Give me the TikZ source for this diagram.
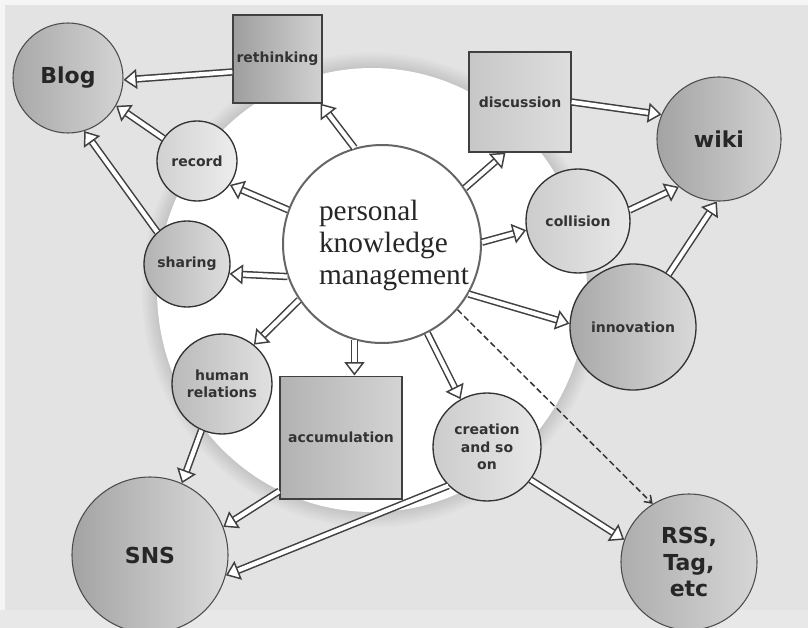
\documentclass[tikz,border=0pt]{standalone}
\usepackage{fontspec}
\setmainfont{Liberation Serif}
\setsansfont{DejaVu Sans}
\usetikzlibrary{arrows.meta}
\begin{document}
\begin{tikzpicture}[x=0.75pt,y=-0.75pt,
  every node/.style={inner sep=0pt},
  bigc/.style={circle, draw=black!70, line width=0.8pt, align=center, text=black!85,
    font=\sffamily\bfseries\fontsize{16.5}{20}\selectfont},
  smc/.style={circle, draw=black!80, line width=1pt, align=center, text=black!80,
    font=\sffamily\bfseries\fontsize{10.5}{13}\selectfont},
  sqbox/.style={rectangle, draw=black!75, line width=1pt, align=center, text=black!80,
    font=\sffamily\bfseries\fontsize{10.5}{12.5}\selectfont},
  darr/.style={draw=black!75, line width=1.15pt, double=white, double distance=3.2pt,
    -{Triangle[open, length=10pt, width=15pt, line width=1.1pt, fill=white]}},
  dasharr/.style={draw=black!80, line width=1.1pt, dash pattern=on 4.5pt off 2.5pt,
    -{Straight Barb[length=5pt, width=7pt]}}
]
\fill[black!11] (0,0) rectangle (808,628);
\fill[black!4] (0,0) rectangle (808,5);
\fill[black!4] (0,0) rectangle (5,628);
\fill[black!9] (0,610) rectangle (808,628);
\useasboundingbox (0,0) rectangle (808,628);
% soft halo around the white disc
\foreach \i in {0,...,11}{
  \pgfmathsetmacro\cc{11+1.1*\i}
  \pgfmathsetmacro\ex{17-1.5*\i}
  \fill[black!\cc] (372,290) ellipse [x radius=215+\ex, y radius=222+\ex];
}
\fill[white] (372,290) ellipse [x radius=215, y radius=222];

% central node
\node[circle, draw=black!60, line width=1.5pt, fill=white, minimum size=148.5pt] (pkm) at (382,244) {};
\node[font=\fontsize{22}{24}\selectfont, align=left, text=black!85] (pkmt) at (394,245) {personal\\knowledge\\management};

% outer nodes
\node[bigc, minimum size=82.5pt, left color=black!34, right color=black!17] (blog) at (68,78) {Blog};
\node[sqbox, minimum width=66.75pt, minimum height=66pt, left color=black!38, right color=black!18] (reth) at (277.5,59) {rethinking};
\node[smc, minimum size=60pt, left color=black!18, right color=black!7] (record) at (197,161) {record};
\node[smc, minimum size=64.5pt, left color=black!30, right color=black!13] (sharing) at (187,264) {sharing};
\node[sqbox, minimum width=76.5pt, minimum height=75pt, left color=black!22, right color=black!13] (disc) at (520,102) {discussion};
\node[bigc, minimum size=93pt, left color=black!36, right color=black!17] (wiki) at (719,139) {wiki};
\node[smc, minimum size=78pt, left color=black!20, right color=black!9] (coll) at (578,221) {collision};
\node[smc, minimum size=94.5pt, left color=black!34, right color=black!15] (innov) at (633,327) {innovation};
\node[smc, minimum size=75pt, left color=black!27, right color=black!12] (human) at (222,384) {human\\relations};
\node[sqbox, minimum width=91.5pt, minimum height=92pt, left color=black!30, right color=black!17] (accum) at (341,437.5) {accumulation};
\node[bigc, minimum size=117pt, left color=black!36, right color=black!14] (sns) at (150,555) {SNS};
\node[smc, minimum size=81pt, left color=black!20, right color=black!9] (creat) at (487,447) {creation\\and so\\on};
\node[bigc, minimum size=102pt, left color=black!32, right color=black!16] (rss) at (689,562) {RSS,\\Tag,\\etc};

% connectors
\draw[darr] (reth.196) -- (blog.358);
\draw[darr] (record.146) -- (blog.330);
\draw[darr] (sharing.133) -- (blog.287);
\draw[darr] (pkm.106) -- (reth.314);
\draw[darr] (pkm.160) -- (record.324);
\draw[darr] (pkm.199) -- (sharing.347);
\draw[darr] (pkm.214) -- (human.51);
\draw[darr] (pkm.254) -- (pkm.254 |- accum.north);
\draw[darr] (pkm.297) -- (creat.119);
\draw[darr] (pkm.34) -- (disc.254);
\draw[darr] (pkm.1) -- (coll.190);
\draw[darr] (pkm.330) -- (innov.177);
\draw[dasharr] (pkm.319) -- (rss.122);
\draw[darr] (disc.east) -- (wiki.157);
\draw[darr] (coll.12) -- (wiki.230);
\draw[darr] (innov.56) -- (wiki.268);
\draw[darr] (human.246) -- (sns.66);
\draw[darr] (accum.221) -- (sns.21);
\draw[darr] (creat.225) -- (sns.345);
\draw[darr] (creat.323) -- (rss.161);
\end{tikzpicture}
\end{document}
